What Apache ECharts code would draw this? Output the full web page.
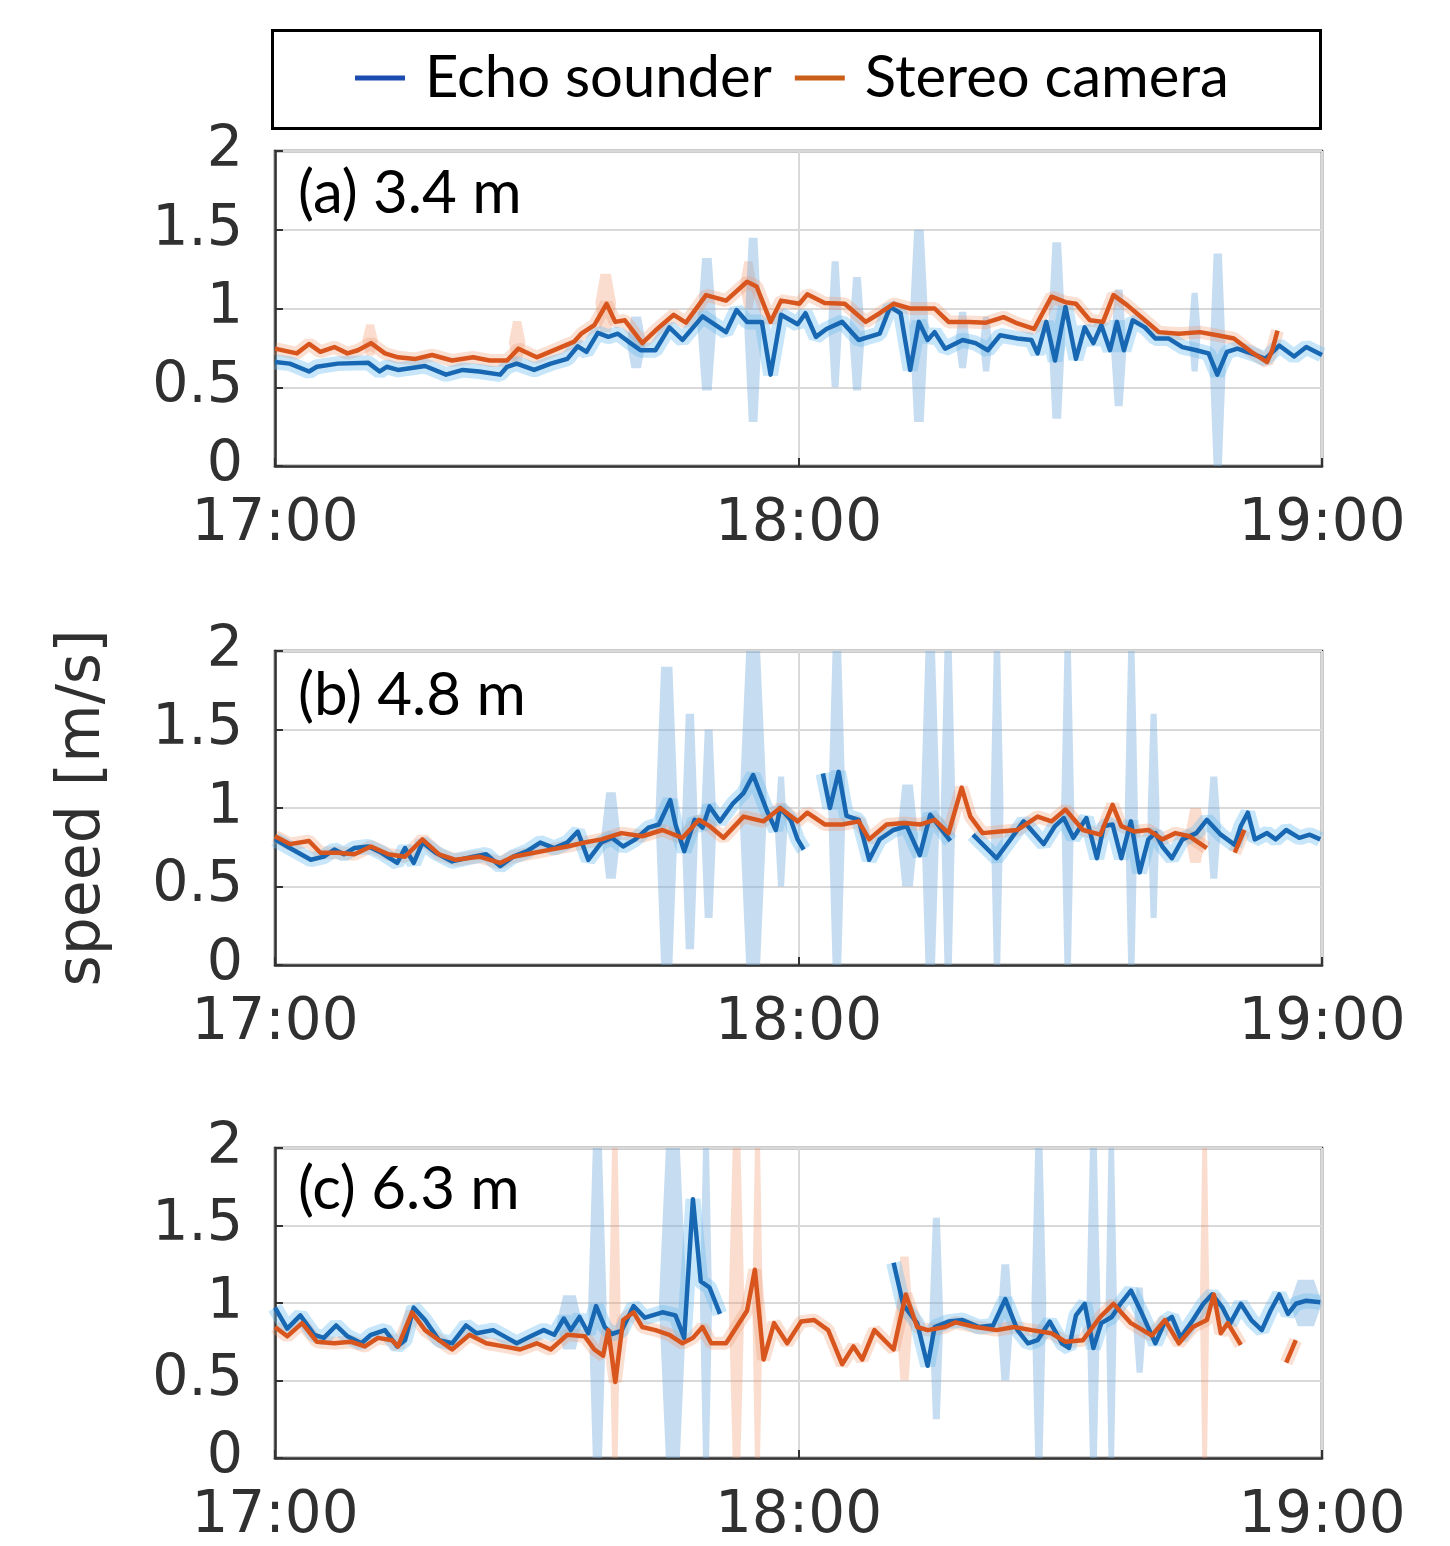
<!DOCTYPE html>
<html>
<head>
<meta charset="utf-8">
<script src="https://cdn.jsdelivr.net/npm/echarts@6/dist/echarts.min.js"></script>
<style>html,body{margin:0;padding:0;background:#fff}#chart{width:1450px;height:1546px}</style>
</head>
<body>
<div id="chart"></div>
<script>
// ---------------- DATA (minutes after 17:00, speed m/s) ----------------
const xTickLabels = ['17:00', '18:00', '19:00'];
const panelLabels = ['(a) 3.4 m', '(b) 4.8 m', '(c) 6.3 m'];
const seriesNames = ['Echo sounder', 'Stereo camera'];
const yAxisTitle = 'speed [m/s]';

// Panel (a) 3.4 m
const aEcho = [[0,0.66],[1.7,0.65],[3.9,0.60],[4.8,0.63],[7.2,0.65],[10.7,0.655],[12.0,0.60],[12.8,0.63],[14.1,0.61],[17.2,0.635],[19.6,0.58],[21.5,0.61],[23.4,0.60],[25.8,0.58],[26.6,0.63],[27.7,0.65],[29.7,0.61],[31.6,0.65],[33.5,0.68],[34.7,0.76],[35.7,0.725],[37.0,0.845],[38.2,0.82],[39.3,0.84],[40.5,0.79],[41.9,0.735],[43.6,0.735],[45.2,0.88],[46.7,0.80],[49.0,0.95],[51.7,0.85],[52.9,0.99],[54.1,0.915],[55.8,0.915],[56.8,0.58],[58.0,0.96],[59.9,0.90],[60.8,0.97],[62.0,0.82],[63.2,0.87],[65.0,0.915],[66.9,0.80],[69.3,0.84],[70.5,1.01],[71.7,0.97],[72.8,0.61],[73.8,0.915],[74.8,0.80],[75.6,0.85],[76.8,0.745],[78.8,0.80],[80.3,0.78],[81.7,0.735],[83.1,0.83],[85.1,0.81],[86.7,0.80],[87.4,0.715],[88.4,0.915],[89.4,0.67],[90.6,1.01],[91.8,0.68],[92.8,0.88],[93.8,0.78],[94.7,0.895],[95.7,0.735],[96.5,0.915],[97.3,0.735],[98.3,0.925],[99.7,0.88],[100.9,0.81],[102.4,0.81],[104.0,0.755],[105.6,0.735],[107.0,0.715],[108.0,0.58],[109.1,0.725],[110.3,0.745],[111.9,0.715],[113.5,0.68],[115.1,0.765],[116.8,0.695],[118.2,0.755],[120,0.705]];
const aStereo = [[0,0.745],[2.5,0.715],[3.9,0.775],[5.2,0.725],[6.8,0.755],[8.3,0.715],[9.5,0.735],[11.0,0.78],[12.6,0.715],[14.1,0.69],[16.1,0.68],[18.0,0.705],[20.3,0.67],[22.7,0.69],[24.6,0.67],[26.6,0.67],[27.9,0.745],[30.0,0.69],[32.8,0.755],[34.3,0.79],[35.1,0.84],[36.6,0.895],[38.0,1.03],[39.0,0.915],[40.1,0.925],[42.1,0.78],[43.6,0.86],[45.7,0.96],[47.1,0.91],[49.4,1.085],[51.7,1.05],[54.1,1.17],[55.2,1.14],[56.8,0.915],[58.0,1.05],[60.1,1.03],[61.0,1.09],[63.0,1.035],[65.3,1.03],[67.7,0.915],[69.3,0.97],[70.9,1.03],[72.8,1.0],[75.6,1.0],[77.2,0.915],[79.5,0.915],[81.5,0.91],[83.5,0.945],[85.1,0.905],[87.0,0.87],[89.0,1.075],[90.6,1.04],[91.8,1.03],[93.4,0.925],[94.9,0.915],[96.1,1.085],[97.7,1.02],[99.3,0.945],[101.3,0.85],[103.6,0.84],[106.0,0.85],[108.0,0.83],[109.9,0.81],[111.9,0.725],[113.7,0.66],[114.3,0.735],[114.9,0.86]];
// uncertainty spans: [start, end, low, high]
const aEchoSpread = [[40.3,42.5,0.62,0.95],[48.4,50.6,0.48,1.32],[53.8,55.8,0.28,1.45],[63.4,65.0,0.5,1.3],[65.8,67.6,0.48,1.2],[72.7,74.9,0.28,1.5],[78.0,79.6,0.62,0.98],[80.8,82.2,0.6,0.95],[88.6,90.6,0.3,1.42],[95.8,97.6,0.38,1.12],[104.7,106.1,0.6,1.1],[107.1,109.0,0.0,1.35]];
const aStereoSpread = [[10.0,11.8,0.7,0.9],[26.8,28.7,0.65,0.92],[36.7,39.1,0.85,1.22],[53.3,55.2,1.0,1.3]];

// Panel (b) 4.8 m
const bEcho = [[0,0.80],[1.7,0.745],[4.1,0.67],[5.6,0.69],[6.8,0.735],[7.9,0.705],[9.1,0.745],[10.7,0.755],[12.2,0.715],[14.0,0.65],[14.9,0.745],[15.9,0.65],[16.9,0.78],[18.4,0.715],[20.3,0.66],[22.7,0.69],[24.2,0.705],[25.8,0.63],[27.3,0.69],[28.9,0.725],[30.4,0.78],[32.0,0.745],[33.5,0.78],[34.7,0.85],[35.9,0.67],[37.4,0.78],[38.6,0.81],[39.9,0.755],[41.3,0.80],[42.8,0.875],[44.0,0.895],[45.3,1.05],[45.9,0.895],[46.9,0.725],[48.1,0.925],[49.0,0.875],[49.8,1.01],[51.0,0.915],[52.5,1.03],[53.7,1.095],[54.8,1.21],[56.4,0.98],[57.4,0.86],[57.9,1.0],[59.1,0.925],[59.9,0.80],[60.6,0.735],[61.7,'-'],[62.8,1.22],[63.6,1.0],[64.6,1.23],[65.5,0.95],[66.9,0.925],[68.1,0.67],[69.3,0.80],[70.9,0.86],[72.4,0.885],[73.9,0.70],[75.1,0.957],[77.4,0.79],[78.7,'-'],[80.0,0.83],[82.7,0.68],[84.3,0.80],[85.8,0.915],[88.1,0.77],[89.4,0.885],[90.4,0.936],[91.5,0.81],[93.0,0.936],[94.2,0.68],[95.0,0.885],[96.0,0.895],[97.0,0.68],[98.1,0.915],[99.1,0.59],[100.1,0.80],[100.9,0.84],[101.7,0.755],[102.8,0.68],[104.0,0.80],[105.6,0.84],[106.8,0.925],[108.4,0.83],[110.0,0.765],[110.7,0.885],[111.5,0.97],[112.3,0.80],[113.7,0.84],[114.7,0.80],[115.9,0.86],[117.4,0.81],[118.6,0.83],[119.8,0.80]];
const bStereo = [[0,0.82],[1.7,0.77],[3.9,0.79],[5.2,0.715],[7.2,0.715],[9.1,0.705],[11.0,0.755],[13.0,0.705],[14.9,0.69],[16.9,0.80],[18.8,0.705],[20.7,0.67],[23.4,0.69],[25.8,0.65],[27.3,0.69],[29.7,0.715],[31.6,0.735],[33.5,0.755],[35.5,0.78],[37.4,0.80],[39.7,0.84],[42.1,0.82],[44.4,0.86],[46.7,0.81],[48.6,0.925],[49.8,0.885],[51.4,0.81],[53.7,0.945],[56.0,0.915],[57.9,1.0],[59.9,0.915],[61.0,0.97],[63.0,0.895],[65.0,0.895],[66.9,0.915],[68.1,0.80],[70.1,0.895],[72.1,0.905],[74.0,0.895],[75.6,0.925],[77.2,0.84],[78.7,1.13],[79.7,0.945],[81.1,0.84],[83.1,0.85],[85.1,0.86],[87.4,0.945],[89.0,0.915],[90.6,0.99],[92.6,0.86],[94.6,0.83],[96.0,1.02],[97.0,0.885],[98.5,0.85],[100.1,0.86],[101.7,0.80],[103.2,0.84],[104.8,0.82],[106.8,0.745],[108.4,'-'],[110.0,0.715],[111.1,0.86]];
const bEchoSpread = [[37.4,39.6,0.55,1.1],[43.6,46.2,0.0,1.9],[46.6,48.5,0.1,1.6],[48.8,50.6,0.3,1.5],[53.2,56.4,0.0,2.0],[57.3,58.7,0.5,1.2],[63.4,65.4,0.0,2.0],[71.3,73.7,0.5,1.15],[74.0,76.2,0.0,2.0],[76.3,78.0,0.0,2.0],[82.0,83.5,0.0,2.0],[90.1,91.6,0.0,2.0],[97.4,98.9,0.0,2.0],[100.0,101.4,0.3,1.6],[106.8,108.4,0.55,1.2]];
const bStereoSpread = [[104.3,106.7,0.65,1.0]];

// Panel (c) 6.3 m
const cEcho = [[0,0.97],[1.4,0.835],[2.9,0.92],[4.5,0.795],[5.6,0.775],[7.0,0.855],[8.3,0.785],[9.9,0.74],[11.0,0.795],[12.6,0.825],[14.0,0.72],[14.9,0.76],[15.9,0.97],[17.2,0.89],[18.8,0.76],[20.3,0.74],[21.9,0.855],[23.1,0.805],[25.0,0.825],[26.6,0.775],[27.7,0.74],[29.3,0.785],[30.8,0.825],[32.0,0.795],[33.1,0.90],[33.9,0.825],[34.9,0.91],[35.9,0.805],[36.8,0.98],[37.8,0.845],[38.6,0.80],[39.7,0.82],[41.1,0.98],[42.4,0.905],[44.4,0.94],[45.9,0.92],[46.9,0.775],[47.9,1.67],[48.8,1.14],[49.8,1.10],[51.0,0.93],[60.0,'-'],[70.9,1.26],[72.0,0.99],[73.6,0.87],[74.8,0.595],[75.6,0.845],[77.2,0.88],[78.8,0.89],[80.7,0.845],[82.3,0.855],[83.7,1.025],[85.1,0.825],[86.3,0.74],[87.4,0.76],[88.8,0.88],[90.2,0.74],[91.0,0.71],[91.8,0.92],[92.8,0.995],[93.8,0.71],[94.7,0.87],[95.9,0.91],[96.9,0.995],[98.1,1.08],[99.3,0.94],[100.9,0.74],[102.0,0.88],[102.8,0.91],[103.8,0.775],[105.2,0.89],[106.4,0.995],[107.4,1.055],[108.6,0.97],[109.5,0.87],[110.7,0.995],[111.9,0.89],[113.1,0.825],[114.1,0.95],[115.1,1.055],[116.1,0.93],[117.0,0.995],[118.2,1.015],[119.8,1.005]];
const cStereo = [[0,0.845],[1.4,0.785],[3.1,0.87],[4.8,0.75],[6.8,0.74],[8.7,0.75],[10.3,0.72],[11.8,0.775],[13.4,0.76],[14.1,0.72],[15.7,0.94],[17.2,0.825],[18.8,0.76],[20.3,0.70],[22.3,0.795],[24.2,0.74],[26.2,0.72],[28.1,0.70],[30.0,0.74],[31.6,0.70],[33.5,0.795],[35.5,0.785],[36.6,0.70],[37.6,0.66],[38.2,0.825],[39.0,0.49],[39.9,0.89],[41.1,0.94],[42.1,0.845],[43.6,0.825],[45.2,0.795],[46.7,0.74],[47.9,0.775],[49.0,0.845],[50.0,0.74],[51.7,0.74],[52.9,0.845],[54.1,0.95],[55.0,1.215],[56.0,0.635],[57.2,0.87],[58.7,0.74],[60.3,0.88],[61.8,0.89],[63.4,0.825],[65.0,0.605],[66.3,0.72],[67.3,0.635],[68.7,0.825],[70.9,0.70],[71.3,0.805],[72.3,1.055],[73.6,0.845],[74.8,0.825],[76.8,0.845],[78.0,0.875],[80.3,0.845],[82.7,0.825],[84.7,0.845],[86.7,0.825],[89.0,0.805],[90.6,0.75],[92.6,0.76],[94.6,0.91],[96.1,0.995],[98.1,0.87],[100.5,0.79],[102.0,0.89],[103.6,0.74],[105.2,0.845],[106.8,0.89],[107.6,1.055],[108.4,0.805],[109.2,0.87],[110.7,0.73],[113.0,'-'],[115.9,0.615],[117.0,0.76]];
const cEchoSpread = [[32.3,35.2,0.7,1.05],[35.9,38.0,0.0,2.0],[44.0,47.2,0.0,2.0],[48.7,50.1,0.0,2.0],[75.0,76.6,0.25,1.55],[82.8,84.6,0.5,1.25],[86.7,88.4,0.0,2.0],[93.0,94.6,0.0,2.0],[95.2,96.5,0.0,2.0],[98.4,99.8,0.55,1.1],[116.3,120,0.85,1.15]];
const cStereoSpread = [[38.3,39.6,0.0,2.0],[52.0,53.8,0.0,2.0],[54.7,55.9,0.0,2.0],[71.2,73.1,0.5,1.3],[106.0,107.1,0.0,2.0]];

const panels = [
  {label: panelLabels[0], echo: aEcho, stereo: aStereo, echoSpread: aEchoSpread, stereoSpread: aStereoSpread},
  {label: panelLabels[1], echo: bEcho, stereo: bStereo, echoSpread: bEchoSpread, stereoSpread: bStereoSpread},
  {label: panelLabels[2], echo: cEcho, stereo: cStereo, echoSpread: cEchoSpread, stereoSpread: cStereoSpread}
];

// ---------------- LAYOUT / STYLE ----------------
const gridBoxes = [
  {left: 275, top: 151, width: 1047, height: 315},
  {left: 275, top: 651, width: 1047, height: 314},
  {left: 275, top: 1148, width: 1047, height: 320}
];
const labelTops = [164, 666, 1160];
const BLUE = '#1767b2', ORANGE = '#d8561d';
const BLUE_BAND = 'rgba(120,172,222,0.42)', ORANGE_BAND = 'rgba(240,150,105,0.32)';
const BLUE_HALO = 'rgba(110,190,240,0.38)', ORANGE_HALO = 'rgba(240,150,110,0.30)';
const FRAME = '#333333', TXT = '#303030';

function bandRenderer(fill) {
  return function (params, api) {
    const t0 = api.value(0), t1 = api.value(1), lo = api.value(2), hi = api.value(3);
    const d = (t1 - t0) * 0.25, mid = (lo + hi) / 2;
    const pts = [
      api.coord([t0, mid]), api.coord([t0 + d, hi]), api.coord([t1 - d, hi]),
      api.coord([t1, mid]), api.coord([t1 - d, lo]), api.coord([t0 + d, lo])
    ];
    return {type: 'polygon', shape: {points: pts}, style: {fill: fill}};
  };
}

const grid = [], xAxis = [], yAxis = [], series = [], title = [];
panels.forEach((p, i) => {
  grid.push(Object.assign({show: true, borderColor: FRAME, borderWidth: 2.5, backgroundColor: '#fff'}, gridBoxes[i]));
  title.push({text: p.label, left: 298, top: labelTops[i], padding: 0,
    textStyle: {fontFamily: 'Lato', fontSize: 60, fontWeight: 'normal', color: '#000'}});
  xAxis.push({
    type: 'value', gridIndex: i, min: 0, max: 120, interval: 60,
    axisLine: {show: true, lineStyle: {color: FRAME, width: 2.5}},
    axisTick: {show: true, inside: true, length: 8, lineStyle: {color: FRAME, width: 2}},
    splitLine: {show: true, lineStyle: {color: '#d9d9d9', width: 2}},
    axisLabel: {show: true, margin: 30, color: TXT, fontFamily: 'DejaVu Sans', fontSize: 58,
      showMinLabel: true, showMaxLabel: true,
      formatter: v => xTickLabels[Math.round(v / 60)]}
  });
  const ya = {
    type: 'value', gridIndex: i, min: 0, max: 2, interval: 0.5,
    axisLine: {show: true, lineStyle: {color: FRAME, width: 2.5}},
    axisTick: {show: true, inside: true, length: 8, lineStyle: {color: FRAME, width: 2}},
    splitLine: {show: true, lineStyle: {color: '#d9d9d9', width: 2}},
    axisLabel: {show: true, margin: 32, color: TXT, fontFamily: 'DejaVu Sans', fontSize: 57}
  };
  if (i === 1) {
    Object.assign(ya, {name: yAxisTitle, nameLocation: 'middle', nameRotate: 90, nameGap: 162,
      nameTextStyle: {color: TXT, fontFamily: 'DejaVu Sans', fontSize: 60}});
  }
  yAxis.push(ya);

  series.push({type: 'custom', name: 'stereo-spread-' + i, xAxisIndex: i, yAxisIndex: i, silent: true, clip: true,
    encode: {x: [0, 1], y: [2, 3]}, renderItem: bandRenderer(ORANGE_BAND), data: p.stereoSpread, z: 1});
  series.push({type: 'custom', name: 'echo-spread-' + i, xAxisIndex: i, yAxisIndex: i, silent: true, clip: true,
    encode: {x: [0, 1], y: [2, 3]}, renderItem: bandRenderer(BLUE_BAND), data: p.echoSpread, z: 2});
  series.push({type: 'line', name: 'stereo-halo-' + i, xAxisIndex: i, yAxisIndex: i, silent: true, showSymbol: false,
    data: p.stereo, lineStyle: {color: ORANGE_HALO, width: 13}, itemStyle: {color: ORANGE_HALO}, z: 3});
  series.push({type: 'line', name: 'echo-halo-' + i, xAxisIndex: i, yAxisIndex: i, silent: true, showSymbol: false,
    data: p.echo, lineStyle: {color: BLUE_HALO, width: 15}, itemStyle: {color: BLUE_HALO}, z: 3});
  series.push({type: 'line', name: seriesNames[0], xAxisIndex: i, yAxisIndex: i, showSymbol: false,
    data: p.echo, lineStyle: {color: BLUE, width: 4.5, join: 'round'}, itemStyle: {color: BLUE}, z: 5});
  series.push({type: 'line', name: seriesNames[1], xAxisIndex: i, yAxisIndex: i, showSymbol: false,
    data: p.stereo, lineStyle: {color: ORANGE, width: 4.5, join: 'round'}, itemStyle: {color: ORANGE}, z: 6});
});

const chart = echarts.init(document.getElementById('chart'), null, {renderer: 'canvas'});
chart.setOption({
  animation: false,
  backgroundColor: '#fff',
  title: title,
  legend: {
    left: 355, top: 49, padding: 0, itemGap: 23, itemWidth: 50, itemHeight: 5,
    selectedMode: false,
    data: [
      {name: seriesNames[0], icon: 'rect', itemStyle: {color: '#1c4cb0'}},
      {name: seriesNames[1], icon: 'rect', itemStyle: {color: '#c95e18'}}
    ],
    textStyle: {fontFamily: 'Lato', fontSize: 58, color: '#000', padding: [0, 0, 0, 15]}
  },
  graphic: [{type: 'rect', left: 270, top: 28, shape: {width: 1048, height: 98},
    style: {fill: 'none', stroke: '#000', lineWidth: 3}, z: 100}],
  grid: grid, xAxis: xAxis, yAxis: yAxis, series: series
});
</script>
</body>
</html>
